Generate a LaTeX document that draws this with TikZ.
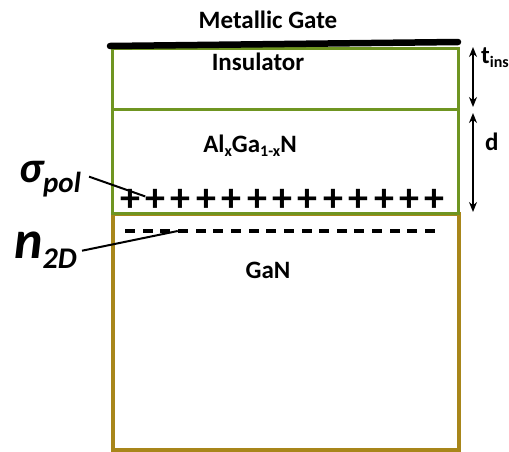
\documentclass[tikz,border=0pt]{standalone}
\usepackage{fontspec}
\setmainfont{Carlito}
\usepackage{tikz}
\usetikzlibrary{arrows.meta,calc}
\definecolor{olivegreen}{HTML}{6F9521}
\definecolor{ganbrown}{HTML}{A8861A}
\newcommand{\lowsub}[1]{\raisebox{-4pt}{\fontsize{16}{16}\selectfont #1}}

\begin{document}
\begin{tikzpicture}[
    x=1pt, y=-1pt,
    layer/.style={draw, line width=3pt, inner sep=0pt, anchor=north west, minimum width=346pt},
    lbl/.style={font=\fontsize{25}{28}\selectfont\bfseries, inner sep=0pt, anchor=base},
    plus/.style={font=\fontsize{40}{40}\selectfont\bfseries, inner sep=0pt},
    minus/.style={fill=black, minimum width=10pt, minimum height=4pt, inner sep=0pt},
    bigsym/.style={font=\bfseries\itshape, inner sep=0pt, anchor=base west},
    leader/.style={draw=black, line width=2pt},
    dimline/.style={draw=black, line width=1.8pt, {Stealth[length=10pt,width=8pt]}-{Stealth[length=10pt,width=8pt]}}
]
    \useasboundingbox (0,0) rectangle (509,451);

    % Strati della struttura (GaN sotto, poi AlGaN e isolante)
    \node[layer, draw=ganbrown, line width=3.5pt, minimum height=236pt] (gan) at (111,212) {};
    \node[layer, draw=olivegreen, minimum height=104pt] (algan) at (111,108) {};
    \node[layer, draw=olivegreen, minimum height=61pt] (ins) at (111,47) {};

    % Gate metallico
    \draw[line width=6.5pt, line cap=round] (110,46) -- (458,42);

    % Etichette degli strati
    \node[lbl] (gatelbl) at (268,28) {Metallic Gate};
    \node[lbl] (inslbl) at (258,70) {Insulator};
    \node[lbl] (alganlbl) at (250,152) {Al\lowsub{x}Ga\lowsub{1-x}N};
    \node[lbl] (ganlbl) at (268,278) {GaN};

    % Cariche di polarizzazione e gas 2D
    \foreach \i in {0,...,12}
        \node[plus] (p\i) at (130+25.4*\i,200) {+};
    \foreach \i in {0,...,17}
        \node[minus] (m\i) at (130+17.65*\i,231) {};

    % Simboli a sinistra
    \node[bigsym] (sig) at (19,182) {\fontsize{44}{44}\selectfont σ\raisebox{-10pt}{\fontsize{29}{29}\selectfont pol}};
    \node[bigsym] (ntwod) at (14,258) {\fontsize{54}{54}\selectfont n\raisebox{-10pt}{\fontsize{30}{30}\selectfont 2D}};

    \draw[leader] ([xshift=8pt,yshift=2pt]sig.east) -- (p1);
    \draw[leader] ([xshift=5pt,yshift=-1pt]ntwod.east) -- (m3.west);

    % Spessori
    \coordinate (t1) at (473,47);
    \coordinate (t2) at (473,107);
    \coordinate (d1) at (473,113);
    \coordinate (d2) at (473,212);
    \draw[dimline] (t1) -- (t2);
    \draw[dimline] (d1) -- (d2);
    \node[lbl, anchor=base west] (tins) at (481,63) {t\lowsub{ins}};
    \node[lbl, anchor=base west] (dlbl) at (485,150) {d};
\end{tikzpicture}
\end{document}
